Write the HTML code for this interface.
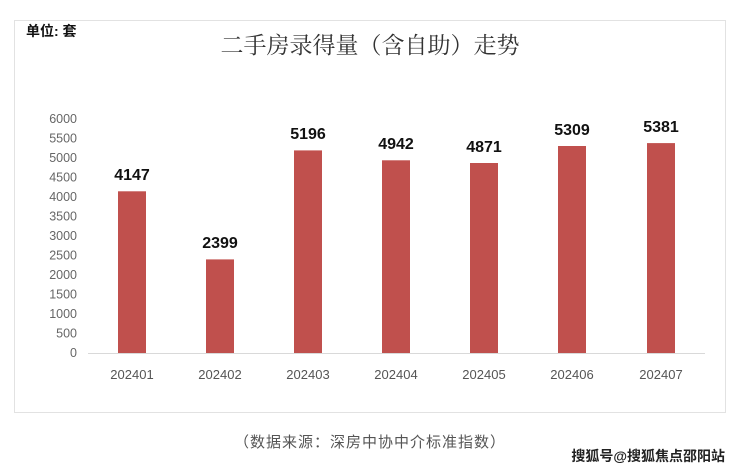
<!DOCTYPE html>
<html><head><meta charset="utf-8"><style>
body{margin:0;background:#fff;}
svg{display:block}
</style></head><body>
<svg width="740" height="470" xmlns="http://www.w3.org/2000/svg" font-family="'Liberation Sans','Noto Sans CJK SC',sans-serif">
<rect x="0" y="0" width="740" height="470" fill="#fff"/>
<rect x="14.5" y="20.5" width="711" height="392" fill="#fff" stroke="#e2e2e2" stroke-width="1"/>
<text x="26" y="36" font-size="14" font-weight="bold" fill="#111">单位: 套</text>
<text x="370" y="53" font-size="23" text-anchor="middle" fill="#333" font-family="'Liberation Serif','Noto Serif CJK SC',serif">二手房录得量（含自助）走势</text>
<g font-size="12.5" fill="#666" text-anchor="end">
<text x="77" y="123">6000</text><text x="77" y="142.5">5500</text><text x="77" y="162">5000</text>
<text x="77" y="181.5">4500</text><text x="77" y="201">4000</text><text x="77" y="220.5">3500</text>
<text x="77" y="240">3000</text><text x="77" y="259.5">2500</text><text x="77" y="279">2000</text>
<text x="77" y="298.5">1500</text><text x="77" y="318">1000</text><text x="77" y="337.5">500</text>
<text x="77" y="357">0</text>
</g>
<line x1="88" y1="353.5" x2="705" y2="353.5" stroke="#d9d9d9" stroke-width="1"/>
<g fill="#c0504d">
<rect x="118" y="191.3" width="28" height="161.7"/>
<rect x="206" y="259.4" width="28" height="93.6"/>
<rect x="294" y="150.4" width="28" height="202.6"/>
<rect x="382" y="160.3" width="28" height="192.7"/>
<rect x="470" y="163.0" width="28" height="190"/>
<rect x="558" y="146.0" width="28" height="207"/>
<rect x="647" y="143.1" width="28" height="209.9"/>
</g>
<g font-size="16" font-weight="bold" fill="#111" text-anchor="middle">
<text x="132" y="180">4147</text>
<text x="220" y="248">2399</text>
<text x="308" y="139">5196</text>
<text x="396" y="149">4942</text>
<text x="484" y="152">4871</text>
<text x="572" y="135">5309</text>
<text x="661" y="132">5381</text>
</g>
<g font-size="13" fill="#555" text-anchor="middle">
<text x="132" y="379">202401</text><text x="220" y="379">202402</text><text x="308" y="379">202403</text>
<text x="396" y="379">202404</text><text x="484" y="379">202405</text><text x="572" y="379">202406</text>
<text x="661" y="379">202407</text>
</g>
<text x="370" y="447" font-size="15" fill="#555" text-anchor="middle" letter-spacing="1">（数据来源：深房中协中介标准指数）</text>
<text x="725" y="461" font-size="14" font-weight="bold" fill="#222" text-anchor="end">搜狐号@搜狐焦点邵阳站</text>
</svg>
</body></html>
